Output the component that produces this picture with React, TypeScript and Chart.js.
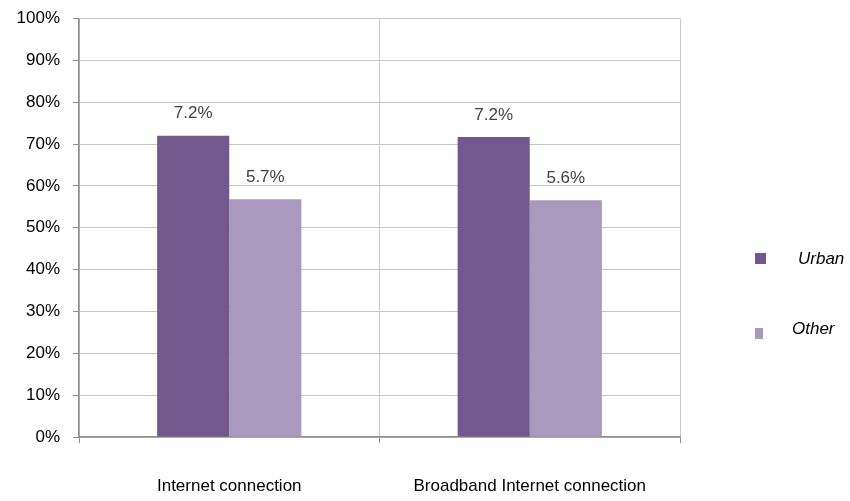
import React, { useEffect, useRef } from "react";
import { Chart, registerables } from "chart.js";

Chart.register(...registerables);

const categories = ["Internet connection", "Broadband Internet connection"];
const seriesNames = ["Urban", "Other"];
const urbanValues = [72.0, 71.7];
const otherValues = [56.8, 56.6];
const urbanLabels = ["7.2%", "7.2%"];
const otherLabels = ["5.7%", "5.6%"];
const yTicks = [0, 10, 20, 30, 40, 50, 60, 70, 80, 90, 100];

const URBAN_COLOR = "#71598E";
const OTHER_COLOR = "#A999BF";
const FONT = "'Liberation Sans', Arial, sans-serif";

const barLabelPlugin = {
  id: "barLabels",
  afterDatasetsDraw(chart: any) {
    const ctx = chart.ctx;
    const labelSets = [urbanLabels, otherLabels];
    ctx.save();
    ctx.font = `17px ${FONT}`;
    ctx.fillStyle = "#404040";
    ctx.textAlign = "center";
    ctx.textBaseline = "middle";
    chart.data.datasets.forEach((_ds: any, di: number) => {
      const meta = chart.getDatasetMeta(di);
      meta.data.forEach((bar: any, i: number) => {
        ctx.fillText(labelSets[di][i], bar.x, bar.y - 22);
      });
    });
    ctx.restore();
  },
};

const legendPlugin = {
  id: "customLegend",
  afterDraw(chart: any) {
    const ctx = chart.ctx;
    ctx.save();
    ctx.fillStyle = URBAN_COLOR;
    ctx.fillRect(755, 253, 11, 11);
    ctx.fillStyle = OTHER_COLOR;
    ctx.fillRect(755, 328, 8, 11);
    ctx.font = `italic 17px ${FONT}`;
    ctx.fillStyle = "#000000";
    ctx.textAlign = "left";
    ctx.textBaseline = "middle";
    ctx.fillText(seriesNames[0], 798, 259);
    ctx.fillText(seriesNames[1], 792, 329);
    ctx.restore();
  },
};

export default function App() {
  const canvasRef = useRef<HTMLCanvasElement | null>(null);

  useEffect(() => {
    if (!canvasRef.current) return;
    const chart = new Chart(canvasRef.current, {
      type: "bar",
      data: {
        labels: categories,
        datasets: [
          {
            label: seriesNames[0],
            data: urbanValues,
            backgroundColor: URBAN_COLOR,
            borderWidth: 0,
            categoryPercentage: 0.48,
            barPercentage: 1.0,
          },
          {
            label: seriesNames[1],
            data: otherValues,
            backgroundColor: OTHER_COLOR,
            borderWidth: 0,
            categoryPercentage: 0.48,
            barPercentage: 1.0,
          },
        ],
      },
      options: {
        animation: false,
        responsive: false,
        maintainAspectRatio: false,
        layout: { padding: { left: 0, right: 170, top: 18.5, bottom: 0 } },
        plugins: {
          legend: { display: false },
          tooltip: { enabled: false },
        },
        scales: {
          x: {
            offset: true,
            grid: {
              offset: true,
              display: true,
              drawOnChartArea: true,
              color: (c: any) => (c.index === 2 ? "#8C8C8C" : "#C8C8C8"),
              tickLength: 6,
              tickColor: "#8C8C8C",
              lineWidth: 1,
            },
            border: { display: true, color: "#8C8C8C", width: 1.5 },
            ticks: {
              color: "#000000",
              font: { family: FONT, size: 17 },
              padding: 33,
              maxRotation: 0,
            },
            afterFit: (scale: any) => {
              scale.height = 64;
              scale.paddingLeft = 0;
              scale.paddingRight = 0;
            },
          },
          y: {
            min: 0,
            max: 100,
            afterBuildTicks: (scale: any) => {
              scale.ticks = yTicks.map((v) => ({ value: v }));
            },
            grid: {
              color: "#C4C4C4",
              tickLength: 6,
              tickColor: "#8C8C8C",
              lineWidth: 1,
            },
            border: { display: true, color: "#8C8C8C", width: 1.5 },
            ticks: {
              color: "#000000",
              font: { family: FONT, size: 17 },
              padding: 13,
              callback: (v: any) => `${v}%`,
            },
            afterFit: (scale: any) => {
              scale.width = 79;
              scale.paddingTop = 0;
              scale.paddingBottom = 0;
            },
          },
        },
      },
      plugins: [barLabelPlugin, legendPlugin],
    });
    return () => chart.destroy();
  }, []);

  return (
    <div style={{ position: "absolute", left: 0, top: 0, width: 850, height: 501, background: "#fff" }}>
      <canvas ref={canvasRef} width={850} height={501} style={{ width: 850, height: 501 }} />
    </div>
  );
}
